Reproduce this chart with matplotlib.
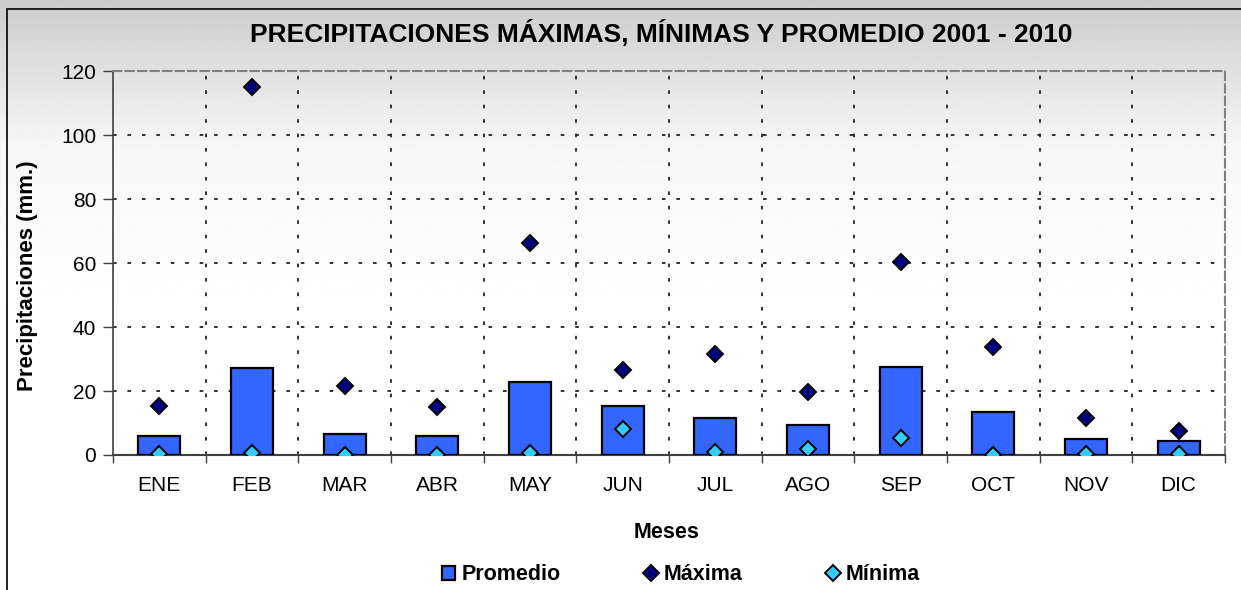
import matplotlib
matplotlib.use('Agg')
import matplotlib.pyplot as plt
import numpy as np
from matplotlib.patches import Rectangle

plt.rcParams['font.family'] = ['Liberation Sans', 'DejaVu Sans']

# datos
meses = ['ENE', 'FEB', 'MAR', 'ABR', 'MAY', 'JUN', 'JUL', 'AGO', 'SEP', 'OCT', 'NOV', 'DIC']
promedio = [6.0, 27.1, 6.5, 6.0, 22.8, 15.4, 11.7, 9.4, 27.4, 13.4, 4.9, 4.5]
maxima = [15.4, 114.9, 21.6, 15.1, 66.1, 26.5, 31.5, 19.8, 60.2, 33.6, 11.7, 7.5]
minima = [0.3, 0.5, 0.1, 0.1, 0.7, 8.2, 0.8, 1.8, 5.4, 0.1, 0.4, 0.2]
y_ticks = [0, 20, 40, 60, 80, 100, 120]

fig = plt.figure(figsize=(12.41, 5.9), dpi=100)

# fondo degradado (imitando la foto del fondo)
bg = fig.add_axes([0, 0, 1, 1], zorder=-10)
gy = np.linspace(0, 1, 300).reshape(-1, 1)
grad = 0.80 + 0.17 * np.clip(gy / 0.25, 0, 1) + 0.03 * np.clip((gy - 0.25) / 0.3, 0, 1)
bg.imshow(grad, aspect='auto', cmap='gray', vmin=0, vmax=1, extent=[0, 1, 1, 0])
bg.set_xlim(0, 1)
bg.set_ylim(1, 0)
bg.axis('off')
fig.patches.append(Rectangle((7 / 1241, -0.1), 1.2, 1 - 9 / 590 + 0.1, transform=fig.transFigure,
                             fill=False, edgecolor='black', linewidth=1.2))

ax = fig.add_axes([113 / 1241, 1 - 455 / 590, (1225 - 113) / 1241, (455 - 71) / 590])
ax.set_facecolor('none')

x = np.arange(len(meses))
ax.bar(x, promedio, width=0.45, color='#3366FF', edgecolor='black', linewidth=1.6,
       label='Promedio', zorder=3)
ax.plot(x, maxima, 'D', color='#000080', markeredgecolor='black', markeredgewidth=1.4,
        markersize=8, label='Máxima', zorder=4)
ax.plot(x, minima, 'D', color='#33CCFF', markeredgecolor='black', markeredgewidth=1.4,
        markersize=8, label='Mínima', zorder=4)

ax.set_xlim(-0.5, len(meses) - 0.5)
ax.set_ylim(0, 120)
ax.set_yticks(y_ticks)
ax.set_xticks(x)
ax.set_xticklabels(meses)
ax.set_xticks(np.arange(len(meses) + 1) - 0.5, minor=True)
ax.tick_params(axis='x', which='major', length=0, labelsize=15, pad=15)
ax.tick_params(axis='x', which='minor', length=6, width=1, color='#404040', direction='out')
ax.tick_params(axis='y', length=7, width=1, color='#404040', labelsize=15, pad=5)

# rejilla punteada
for yv in y_ticks[1:-1]:
    ax.axhline(yv, color='#222222', linewidth=1.3, linestyle=(0, (2, 6)), zorder=1)
for xv in np.arange(1, len(meses)) - 0.5:
    ax.axvline(xv, color='#222222', linewidth=1.3, linestyle=(0, (2, 6)), zorder=1)

ax.spines['left'].set_color('#404040')
ax.spines['left'].set_linewidth(1.2)
ax.spines['bottom'].set_color('#404040')
ax.spines['bottom'].set_linewidth(1.5)
for s in ['top', 'right']:
    ax.spines[s].set_color('#808080')
    ax.spines[s].set_linewidth(1.5)
    ax.spines[s].set_linestyle((0, (4, 2)))

fig.text(661 / 1241, 1 - 33 / 590, 'PRECIPITACIONES MÁXIMAS, MÍNIMAS Y PROMEDIO 2001 - 2010',
         ha='center', va='center', fontsize=19, fontweight='bold')
fig.text(28 / 1241, 1 - 276 / 590, 'Precipitaciones (mm.)', rotation=90,
         ha='center', va='center', fontsize=16, fontweight='bold')
fig.text(667 / 1241, 1 - 532 / 590, 'Meses', ha='center', va='center',
         fontsize=15.5, fontweight='bold')

handles, labels = ax.get_legend_handles_labels()
order = [labels.index('Promedio'), labels.index('Máxima'), labels.index('Mínima')]
leg = fig.legend([handles[i] for i in order], [labels[i] for i in order],
                 loc='center', bbox_to_anchor=(681 / 1241, 1 - 575 / 590), ncol=3,
                 frameon=False, prop={'weight': 'bold', 'size': 15.5},
                 handlelength=0.6, handleheight=0.6, handletextpad=0.3, columnspacing=3.9)

fig.savefig('out.png', dpi=100)
